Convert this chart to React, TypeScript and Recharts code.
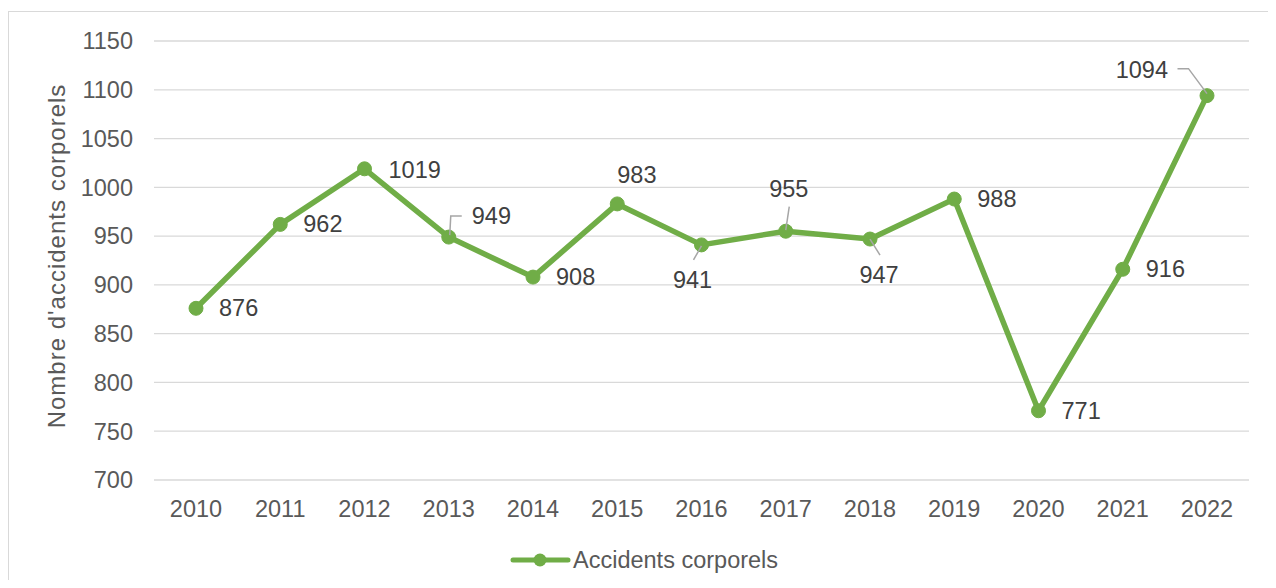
import { LineChart, Line, XAxis, YAxis, CartesianGrid, Legend, LabelList } from 'recharts'

const years = ['2010', '2011', '2012', '2013', '2014', '2015', '2016', '2017', '2018', '2019', '2020', '2021', '2022']
const accidents = [876, 962, 1019, 949, 908, 983, 941, 955, 947, 988, 771, 916, 1094]
const yTicks = [700, 750, 800, 850, 900, 950, 1000, 1050, 1100, 1150]
const seriesName = 'Accidents corporels'
const yTitle = "Nombre d'accidents corporels"

const data = years.map((year, i) => ({ year, value: accidents[i] }))

const GREEN = '#70AD47'
const FONT = '"Liberation Sans", Arial, sans-serif'

type Placement = {
  anchor: 'start' | 'middle' | 'end'
  dx: number
  dy: number
  leader?: number[][]
}

// label placement relative to the point (Excel moved some labels by hand)
const defaultPlacement: Placement = { anchor: 'start', dx: 23, dy: 0 }
const placements: Record<string, Placement> = {
  '2012': { anchor: 'start', dx: 24, dy: 1 },
  '2013': { anchor: 'start', dx: 23, dy: -21, leader: [[1, -2], [2, -21], [13, -21]] },
  '2015': { anchor: 'start', dx: 0, dy: -29 },
  '2016': { anchor: 'middle', dx: -9, dy: 35, leader: [[0, 1], [-8, 15]] },
  '2017': { anchor: 'middle', dx: 3, dy: -42, leader: [[0, -1], [3.5, -24.5]] },
  '2018': { anchor: 'middle', dx: 9, dy: 36, leader: [[0, 0], [10, 16]] },
  '2022': { anchor: 'end', dx: -39, dy: -25.5, leader: [[0, -2], [-18.5, -27], [-29.5, -27]] },
}

const renderLabel = (props: any) => {
  const { x, y, value, index } = props
  const p = placements[years[index]] || defaultPlacement
  return (
    <g>
      {p.leader && (
        <polyline
          points={p.leader.map(([a, b]) => `${x + a},${y + b}`).join(' ')}
          fill="none"
          stroke="#A6A6A6"
          strokeWidth={1.5}
        />
      )}
      <text
        x={x + p.dx}
        y={y + p.dy}
        textAnchor={p.anchor}
        dominantBaseline="central"
        fill="#404040"
        fontSize={23.5}
        fontFamily={FONT}
      >
        {value}
      </text>
    </g>
  )
}

const renderYTitle = (props: any) => {
  const { viewBox } = props
  const cx = 56
  const cy = viewBox.y + viewBox.height / 2 - 4.5
  return (
    <text
      x={cx}
      y={cy}
      transform={`rotate(-90 ${cx} ${cy})`}
      textAnchor="middle"
      fill="#595959"
      fontSize={24}
      letterSpacing={1}
      fontFamily={FONT}
    >
      {yTitle}
    </text>
  )
}

const renderLegend = () => (
  <div style={{ position: 'relative', height: 24, width: 1267 }}>
    <svg style={{ position: 'absolute', left: 500, top: 0 }} width={64} height={24}>
      <line x1={4} x2={59} y1={12} y2={12} stroke={GREEN} strokeWidth={5} strokeLinecap="round" />
      <circle cx={31} cy={12} r={6.5} fill={GREEN} />
    </svg>
    <span
      style={{
        position: 'absolute',
        left: 564,
        top: 0,
        lineHeight: '24px',
        fontSize: 23.5,
        color: '#595959',
        fontFamily: FONT,
        whiteSpace: 'nowrap',
      }}
    >
      {seriesName}
    </span>
  </div>
)

export default function App() {
  return (
    <div
      style={{
        position: 'relative',
        top: 3,
        width: 1268,
        height: 577,
        marginBottom: -5,
        boxSizing: 'border-box',
        borderTop: '1px solid #D9D9D9',
        borderLeft: '1px solid #D9D9D9',
        background: '#fff',
      }}
    >
      <LineChart width={1267} height={576} data={data} margin={{ top: 29, right: 27, left: 0, bottom: 16 }}>
        <CartesianGrid vertical={false} stroke="#D9D9D9" strokeWidth={1.3} />
        <XAxis
          dataKey="year"
          padding={{ left: 42, right: 42 }}
          axisLine={false}
          tickLine={false}
          tickSize={0}
          tickMargin={20}
          height={68}
          interval={0}
          tick={{ fill: '#595959', fontSize: 23.5, fontFamily: FONT }}
        />
        <YAxis
          domain={[700, 1150]}
          ticks={yTicks}
          width={145}
          axisLine={false}
          tickLine={false}
          tickSize={0}
          tickMargin={21}
          tick={{ fill: '#595959', fontSize: 23.5, fontFamily: FONT }}
          label={{ content: renderYTitle }}
        />
        <Legend verticalAlign="bottom" content={renderLegend} wrapperStyle={{ left: 0, top: 536, width: 1267 }} />
        <Line
          type="linear"
          dataKey="value"
          name={seriesName}
          stroke={GREEN}
          strokeWidth={5.5}
          strokeLinejoin="round"
          dot={{ r: 7, fill: GREEN, stroke: GREEN, strokeWidth: 1 }}
          activeDot={false}
          isAnimationActive={false}
        >
          <LabelList dataKey="value" content={renderLabel} />
        </Line>
      </LineChart>
    </div>
  )
}
